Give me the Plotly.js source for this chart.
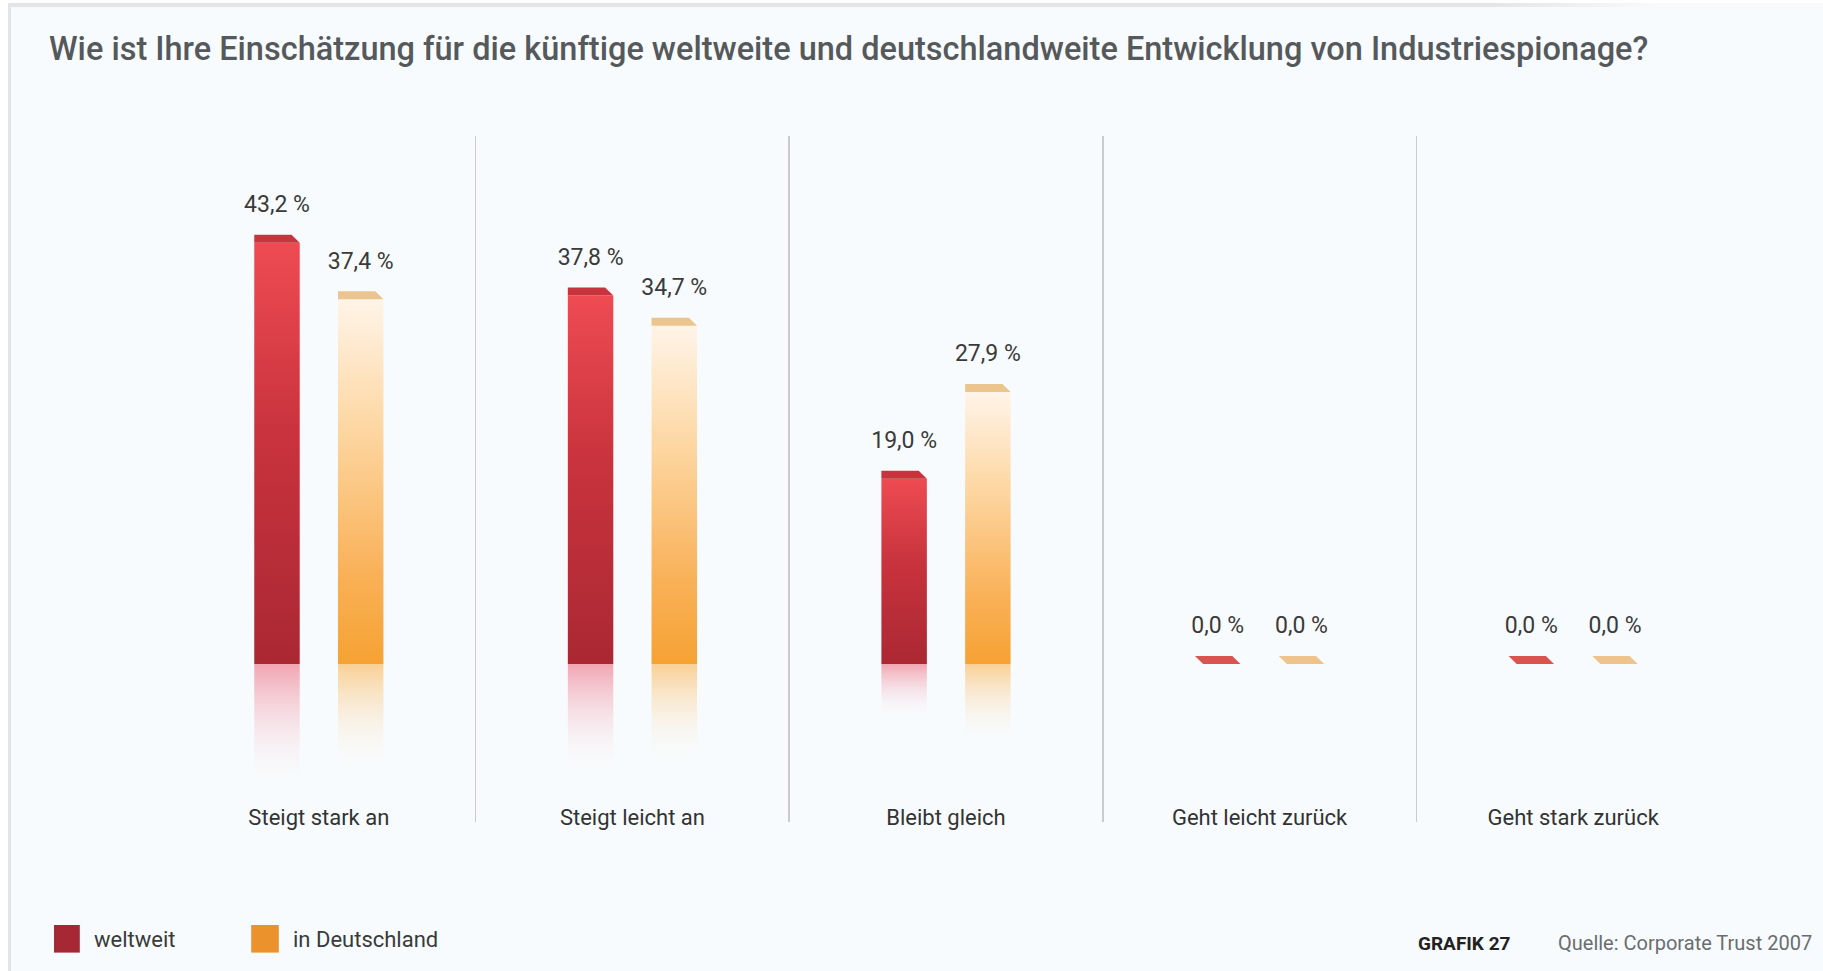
<!DOCTYPE html>
<html>
<head>
<meta charset="utf-8">
<script src="https://cdn.plot.ly/plotly-3.0.1.min.js"></script>
<style>
html, body { margin: 0; padding: 0; background: #ffffff; overflow: hidden; }
#chart { position: absolute; left: 0; top: 0; width: 1823px; height: 971px; }
.strip { position: absolute; background: #ffffff; }
.bline { position: absolute; background: #e3e6e8; }
</style>
</head>
<body>
<div id="chart"></div>
<div class="strip" style="left:0;top:0;width:1823px;height:3px;"></div>
<div class="strip" style="left:0;top:0;width:8px;height:971px;"></div>
<div class="bline" style="left:8px;top:3px;width:1650px;height:4px;background:linear-gradient(to right,#e3e6e8 0%,#e3e6e8 90%,rgba(227,230,232,0) 100%);"></div>
<div class="bline" style="left:8px;top:3px;width:3px;height:968px;"></div>
<script>
// ---------------- data ----------------
const categories = ['Steigt stark an', 'Steigt leicht an', 'Bleibt gleich', 'Geht leicht zurück', 'Geht stark zurück'];
const weltweit = [43.2, 37.8, 19.0, 0.0, 0.0];
const inDeutschland = [37.4, 34.7, 27.9, 0.0, 0.0];
const seriesNames = ['weltweit', 'in Deutschland'];
const titleText = 'Wie ist Ihre Einschätzung für die künftige weltweite und deutschlandweite Entwicklung von Industriespionage?';
const grafikText = 'GRAFIK 27';
const sourceText = 'Quelle: Corporate Trust 2007';

// ---------------- styling ----------------
const FONT = 'Roboto, "DejaVu Sans", sans-serif';
const BAR_W = 0.145;      // bar width in category units
const OFF = 0.1335;       // distance of each bar centre from category centre
const CAP_H = 0.82;       // height of the 3D top face (value units)
const SLANT = 0.026;      // horizontal slant of the top face (category units)
const REFL = 0.30;        // reflection length relative to value
const LABEL_PAD = 1.75;

const series = [
  { name: seriesNames[0], values: weltweit, center: -OFF, legend: '#a52834',
    stops: [[0, '#ee4b53'], [0.45, '#c9333d'], [1, '#aa2833']],
    cap: '#c8343d', zeroCap: '#d9544f', refl: 'rgba(240,150,165,0.85)' },
  { name: seriesNames[1], values: inDeutschland, center: OFF, legend: '#ec922c',
    stops: [[0, '#fff4e8'], [0.35, '#fdd7a3'], [0.75, '#f9b158'], [1, '#f6a233']],
    cap: '#ecc48e', zeroCap: '#efc38c', refl: 'rgba(250,200,130,0.85)' }
];

const fmt = v => v.toFixed(1).replace('.', ',') + ' %';

const traces = [];
// reflections (below baseline)
series.forEach(s => {
  s.values.forEach((v, i) => {
    if (v <= 0) return;
    const xc = i + s.center, xl = xc - BAR_W / 2, xr = xc + BAR_W / 2, L = v * REFL;
    traces.push({
      type: 'scatter', xaxis: 'x2', yaxis: 'y', mode: 'lines', fill: 'toself',
      x: [xl, xr, xr, xl, xl], y: [0, 0, -L, -L, 0],
      line: { width: 0, color: 'rgba(0,0,0,0)' },
      fillgradient: { type: 'vertical', start: -L, stop: 0,
        colorscale: [[0, 'rgba(248,251,253,0)'], [1, s.refl]] },
      showlegend: false, hoverinfo: 'skip'
    });
  });
});
// bars
series.forEach(s => {
  traces.push({
    type: 'bar', name: s.name, x: categories, y: s.values,
    width: BAR_W, offset: s.center - BAR_W / 2,
    marker: { color: s.legend, line: { width: 0 } },
    hoverinfo: 'skip', showlegend: true
  });
});
// 3D top faces
series.forEach(s => {
  s.values.forEach((v, i) => {
    const xc = i + s.center, xl = xc - BAR_W / 2, xr = xc + BAR_W / 2;
    const blx = v > 0 ? xl : xl + SLANT;
    traces.push({
      type: 'scatter', xaxis: 'x2', yaxis: 'y', mode: 'lines', fill: 'toself',
      x: [xl, xr - SLANT, xr, blx, xl], y: [v + CAP_H, v + CAP_H, v, v, v + CAP_H],
      line: { width: 0, color: 'rgba(0,0,0,0)' },
      fillcolor: v > 0 ? s.cap : s.zeroCap,
      showlegend: false, hoverinfo: 'skip'
    });
  });
});
// value labels
series.forEach(s => {
  traces.push({
    type: 'scatter', xaxis: 'x2', yaxis: 'y', mode: 'text',
    x: s.values.map((v, i) => i + s.center),
    y: s.values.map(v => v + CAP_H + LABEL_PAD),
    text: s.values.map(fmt), textposition: 'top center',
    textfont: { family: FONT, size: 23, color: '#3a3a3a' },
    showlegend: false, hoverinfo: 'skip', cliponaxis: false
  });
});

const W = 1823, H = 971;
const M = { l: 163, r: 94, t: 136, b: 149 };
const pw = W - M.l - M.r, ph = H - M.t - M.b;
const px2x = px => (px - M.l) / pw;
const py2y = py => (H - M.b - py) / ph;
const XR = [-0.497, 4.497];

const layout = {
  width: W, height: H,
  margin: M,
  paper_bgcolor: '#f8fbfd', plot_bgcolor: 'rgba(0,0,0,0)',
  font: { family: FONT, color: '#3a3a3a' },
  title: {
    text: titleText, xref: 'container', yref: 'container',
    x: 49 / W, xanchor: 'left', y: 1 - 49 / H, yanchor: 'middle',
    font: { family: FONT, size: 32.5, color: '#55595c', weight: 500 }
  },
  barmode: 'overlay',
  xaxis: {
    type: 'category', categoryorder: 'array', categoryarray: categories,
    range: XR, tickson: 'boundaries', ticks: '',
    showgrid: true, gridcolor: '#c9cbcd', gridwidth: 1.5,
    showline: false, zeroline: false,
    ticklabelposition: 'inside', ticklabelstandoff: -10,
    tickfont: { family: FONT, size: 22, color: '#333333' }
  },
  xaxis2: { overlaying: 'x', range: XR, visible: false },
  yaxis: { range: [-16.2, 54.15], visible: false, showgrid: false, zeroline: false },
  showlegend: true,
  legend: {
    orientation: 'h', xref: 'container', yref: 'container',
    x: 54 / W, xanchor: 'left', y: 1 - 939 / H, yanchor: 'middle',
    font: { family: FONT, size: 22, color: '#3a3a3a' },
    bgcolor: 'rgba(0,0,0,0)', entrywidth: 154, traceorder: 'normal'
  },
  annotations: [
    { text: grafikText, xref: 'paper', yref: 'paper', x: px2x(1416), y: py2y(943),
      xanchor: 'left', yanchor: 'middle', showarrow: false,
      font: { family: FONT, size: 19, color: '#222222', weight: 'bold' } },
    { text: sourceText, xref: 'paper', yref: 'paper', x: px2x(1556), y: py2y(943),
      xanchor: 'left', yanchor: 'middle', showarrow: false,
      font: { family: FONT, size: 20, color: '#6a6d70' } }
  ]
};

const gd = document.getElementById('chart');
Plotly.newPlot(gd, traces, layout, { staticPlot: true, displayModeBar: false }).then(() => {
  const svg = gd.querySelector('svg.main-svg');
  const NS = 'http://www.w3.org/2000/svg';
  let defs = svg.querySelector('defs');
  if (!defs) { defs = document.createElementNS(NS, 'defs'); svg.insertBefore(defs, svg.firstChild); }
  series.forEach((s, k) => {
    const g = document.createElementNS(NS, 'linearGradient');
    g.setAttribute('id', 'barGrad' + k);
    g.setAttribute('x1', '0'); g.setAttribute('y1', '0');
    g.setAttribute('x2', '0'); g.setAttribute('y2', '1');
    s.stops.forEach(st => {
      const stop = document.createElementNS(NS, 'stop');
      stop.setAttribute('offset', (st[0] * 100) + '%');
      stop.setAttribute('stop-color', st[1]);
      g.appendChild(stop);
    });
    defs.appendChild(g);
  });
  gd.querySelectorAll('.barlayer .trace').forEach((t, k) => {
    t.querySelectorAll('path').forEach(p => { p.style.fill = 'url(#barGrad' + k + ')'; });
  });
  gd.querySelectorAll('.legend .legendpoints path').forEach(p => {
    p.setAttribute('transform', 'translate(12,0) scale(2.3)');
  });
});
</script>
</body>
</html>
